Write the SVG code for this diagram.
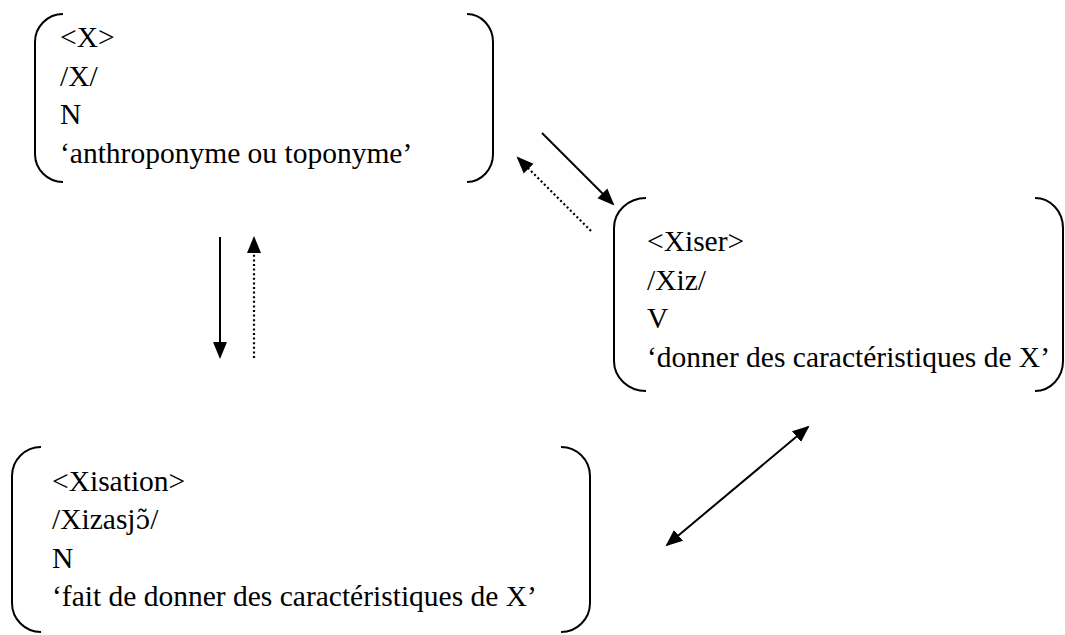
<svg xmlns="http://www.w3.org/2000/svg" width="1065" height="635" viewBox="0 0 1065 635">
<style>
.br{fill:none;stroke:#000;stroke-width:2}
text{font-family:'Liberation Serif','DejaVu Serif',serif;font-size:29.5px;fill:#000}
.ln{stroke:#000;stroke-width:2;fill:none}
.dot{stroke:#000;stroke-width:2.2;fill:none;stroke-dasharray:2 2.6}
</style>
<defs>
<marker id="ah" markerUnits="userSpaceOnUse" markerWidth="18" markerHeight="16" refX="15" refY="7" orient="auto-start-reverse" viewBox="0 0 18 14">
<path d="M0,0 L17,7 L0,14 Z" fill="#000"/>
</marker>
</defs>
<rect width="1065" height="635" fill="#fff"/>
<g id="node-X">
<path class="br" d="M63,14 A28,28 0 0 0 35,42 L35,154 A28,28 0 0 0 63,182"/>
<path class="br" d="M467,14 A26,28 0 0 1 493,42 L493,154 A26,28 0 0 1 467,182"/>
<text x="60" y="47">&lt;X&gt;</text>
<text x="60" y="86">/X/</text>
<text x="60" y="124">N</text>
<text x="60" y="163">‘anthroponyme ou toponyme’</text>
</g>
<g id="node-Xiser">
<path class="br" d="M646,198 A32,30 0 0 0 614,228 L614,361 A32,30 0 0 0 646,391"/>
<path class="br" d="M1035,198 A28,30 0 0 1 1063,228 L1063,361 A28,30 0 0 1 1035,391"/>
<text x="647" y="251">&lt;Xiser&gt;</text>
<text x="647" y="290">/Xiz/</text>
<text x="647" y="328">V</text>
<text x="647" y="367">‘donner des caractéristiques de X’</text>
</g>
<g id="node-Xisation">
<path class="br" d="M41,447 A29,29 0 0 0 12,476 L12,603 A29,29 0 0 0 41,632"/>
<path class="br" d="M561,447 A29,29 0 0 1 590,476 L590,603 A29,29 0 0 1 561,632"/>
<text x="52" y="491">&lt;Xisation&gt;</text>
<text x="52" y="529">/Xizasj<tspan font-family="DejaVu Serif" font-size="26px">ɔ̃</tspan>/</text>
<text x="52" y="568">N</text>
<text x="52" y="606">‘fait de donner des caractéristiques de X’</text>
</g>
<g id="connectors">
<line class="ln" x1="542" y1="133" x2="613" y2="204" marker-end="url(#ah)"/>
<line class="dot" x1="591" y1="231" x2="518" y2="158" marker-end="url(#ah)"/>
<line class="ln" x1="220" y1="237" x2="220" y2="357" marker-end="url(#ah)"/>
<line class="dot" x1="254" y1="358" x2="254" y2="238" marker-end="url(#ah)"/>
<line class="ln" x1="667" y1="545" x2="808" y2="427" marker-start="url(#ah)" marker-end="url(#ah)"/>
</g>
</svg>
